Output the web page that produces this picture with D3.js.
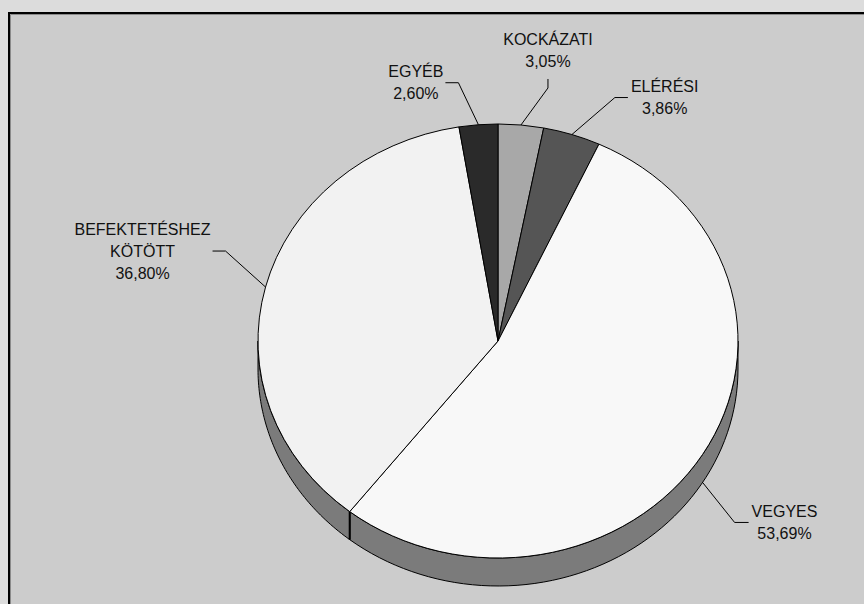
<!DOCTYPE html>
<html>
<head>
<meta charset="utf-8">
<script src="https://cdn.jsdelivr.net/npm/d3@7"></script>
<style>
  html, body { margin: 0; padding: 0; background: #dcdcdc; }
  svg { display: block; }
  text { font-family: "Liberation Sans", Arial, sans-serif; font-size: 16px; fill: #111; }
</style>
</head>
<body>
<svg id="chart" width="864" height="604"></svg>
<script>
// data
var categories = ['KOCKÁZATI', 'ELÉRÉSI', 'VEGYES', 'BEFEKTETÉSHEZ KÖTÖTT', 'EGYÉB'];
var labelLines = [['KOCKÁZATI'], ['ELÉRÉSI'], ['VEGYES'], ['BEFEKTETÉSHEZ', 'KÖTÖTT'], ['EGYÉB']];
var values = [3.05, 3.86, 53.69, 36.80, 2.60];
var colors = ['#a8a8a8', '#555555', '#f8f8f8', '#f2f2f2', '#2a2a2a'];

// layout
var cx = 498, cy = 341,   // centre of the top face
    rx = 240, ry = 217,   // radii of the top face
    depth = 28,           // thickness of the pie
    sideColor = '#7b7b7b',
    lineHeight = 22;

// leader layout: elbow offset from the slice edge, then a short run to the label
var leaders = [
  { side: 'bottom', dx: 27,  dy: -37, len: 9 },
  { side: 'right',  dx: 43,  dy: -37, len: 13 },
  { side: 'right',  dx: 32,  dy: 40,  len: 14 },
  { side: 'left',   dx: -40, dy: -36, len: 13 },
  { side: 'left',   dx: -20, dy: -42, len: 13 }
];

var hu = d3.formatLocale({ decimal: ',', thousands: ' ', grouping: [3], currency: ['', ''] });
var pct = function(v) { return hu.format('.2f')(v) + '%'; };

var svg = d3.select('#chart');

// frame
svg.append('rect')
   .attr('x', 0).attr('y', 0).attr('width', 864).attr('height', 604)
   .attr('fill', '#dcdcdc');
svg.append('rect')
   .attr('x', 9).attr('y', 13).attr('width', 900).attr('height', 700)
   .attr('fill', '#cccccc')
   .attr('stroke', '#000').attr('stroke-width', 2);
svg.append('path')
   .attr('d', 'M10.5,700V14.5H900')
   .attr('fill', 'none').attr('stroke', '#8a8a8a').attr('stroke-width', 1);

var pie = d3.pie().sort(null).value(function(d) { return d; });
var arcs = pie(values);

function pt(a, dy) {
  return [cx + rx * Math.sin(a), cy - ry * Math.cos(a) + (dy || 0)];
}

// side walls (only the front half is visible)
var side = svg.append('g');
arcs.forEach(function(d) {
  var a0 = Math.max(d.startAngle, Math.PI / 2),
      a1 = Math.min(d.endAngle, 3 * Math.PI / 2);
  if (a0 >= a1) return;
  var n = 60, top = [], bottom = [];
  for (var i = 0; i <= n; i++) {
    var a = a0 + (a1 - a0) * i / n;
    top.push(pt(a, 0));
    bottom.push(pt(a, depth));
  }
  side.append('path')
      .attr('d', d3.line()(top.concat(bottom.reverse())) + 'Z')
      .attr('fill', sideColor)
      .attr('stroke', '#000')
      .attr('stroke-width', 1)
      .attr('stroke-linejoin', 'round');
});
// vertical edges where slices meet on the front wall
arcs.forEach(function(d) {
  var a = d.startAngle;
  if (a > Math.PI / 2 && a < 3 * Math.PI / 2) {
    var p0 = pt(a, 0), p1 = pt(a, depth);
    side.append('line')
        .attr('x1', p0[0]).attr('y1', p0[1])
        .attr('x2', p1[0]).attr('y2', p1[1])
        .attr('stroke', '#000').attr('stroke-width', 2);
  }
});

// top face
var arc = d3.arc().innerRadius(0).outerRadius(rx);
svg.append('g')
   .attr('transform', 'translate(' + cx + ',' + cy + ') scale(1,' + (ry / rx) + ')')
   .selectAll('path')
   .data(arcs)
   .enter()
   .append('path')
   .attr('d', arc)
   .attr('fill', function(d, i) { return colors[i]; })
   .attr('stroke', '#000')
   .attr('stroke-width', 1)
   .attr('vector-effect', 'non-scaling-stroke')
   .attr('stroke-linejoin', 'round');

// labels + leader lines
var labels = svg.append('g');
arcs.forEach(function(d, i) {
  var mid = (d.startAngle + d.endAngle) / 2,
      edge = pt(mid, Math.cos(mid) < 0 ? depth : 0),
      L = leaders[i],
      elbow = [edge[0] + L.dx, edge[1] + L.dy],
      end, lines = labelLines[i].concat([pct(values[i])]);

  if (L.side === 'bottom') end = [elbow[0], elbow[1] - L.len];
  else if (L.side === 'right') end = [elbow[0] + L.len, elbow[1]];
  else end = [elbow[0] - L.len, elbow[1]];

  labels.append('path')
        .attr('d', d3.line()([edge, elbow, end]))
        .attr('fill', 'none')
        .attr('stroke', '#000')
        .attr('stroke-width', 1);

  var t = labels.append('text').attr('text-anchor', 'middle');
  var spans = t.selectAll('tspan').data(lines).enter().append('tspan').text(function(s) { return s; });
  var w = 0;
  spans.each(function() { w = Math.max(w, this.getComputedTextLength()); });

  var x, firstBase;
  if (L.side === 'bottom') {
    x = end[0];
    firstBase = end[1] - 12 - (lines.length - 1) * lineHeight;
  } else {
    x = L.side === 'right' ? end[0] + 3 + w / 2 : end[0] - 2 - w / 2;
    firstBase = end[1] - (lines.length - 1) * lineHeight / 2 + 5.7;
  }
  spans.attr('x', x).attr('y', function(s, j) { return firstBase + j * lineHeight; });
});
</script>
</body>
</html>
